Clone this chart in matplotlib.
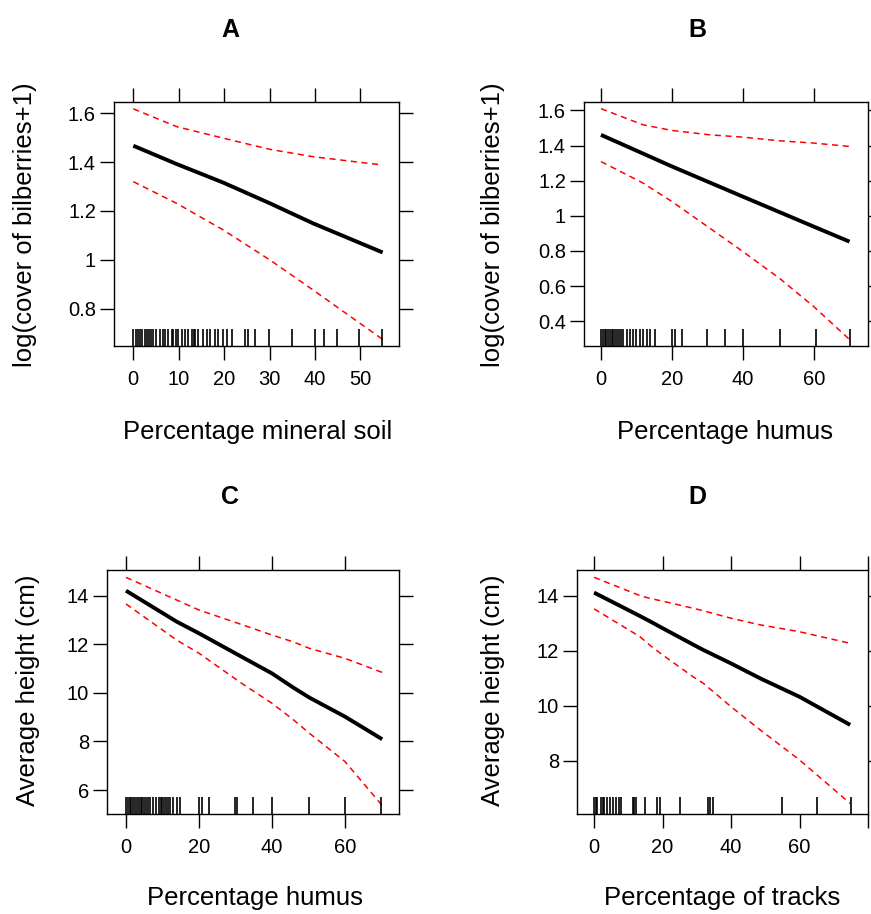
import numpy as np
import matplotlib
matplotlib.use("Agg")
import matplotlib.pyplot as plt

plt.rcParams['font.family'] = ['Liberation Sans', 'DejaVu Sans']

# ---- panel A: log cover of bilberries vs mineral soil
a_x = [0, 9.55, 19.8, 30.1, 39.6, 54.9]
a_fit = [1.467, 1.392, 1.316, 1.231, 1.149, 1.030]
a_up = [1.618, 1.545, 1.498, 1.452, 1.422, 1.388]
a_lo = [1.320, 1.231, 1.122, 0.999, 0.876, 0.674]
a_rug = [0, 0.5, 1, 1.5, 2, 2.5, 3, 3.5, 4, 4.4, 5.1, 5.9, 6.6, 7, 7.7, 8.5, 8.8,
         9.5, 9.9, 10.7, 11.4, 12.1, 12.9, 13.3, 13.6, 14.3, 15.4, 16.2, 16.9,
         18, 18.7, 19.8, 20.6, 21.7, 24.6, 25.3, 26.8, 29.8, 35, 39.9, 41.9,
         44.8, 49.6, 54.8]

# ---- panel B: log cover of bilberries vs humus
b_x = [0, 11.9, 20, 30.7, 40, 50.3, 60, 70]
b_fit = [1.461, 1.354, 1.281, 1.189, 1.109, 1.021, 0.938, 0.853]
b_up = [1.610, 1.518, 1.486, 1.461, 1.448, 1.427, 1.414, 1.395]
b_lo = [1.309, 1.186, 1.081, 0.929, 0.796, 0.644, 0.482, 0.296]
b_rug = [0, 0.5, 1, 1.5, 2, 2.5, 3, 3.5, 4, 4.5, 5, 5.5, 6.2, 7.2, 8.2, 9.1, 10,
         11, 11.9, 12.9, 13.8, 15.2, 19.9, 20.8, 22.9, 30, 35, 40, 50.3, 60.5, 70]

# ---- panel C: average height vs humus
c_x = [0, 13.9, 20, 32.1, 40, 45.8, 50.3, 60, 70.2]
c_fit = [14.206, 12.93, 12.45, 11.45, 10.80, 10.22, 9.80, 9.02, 8.09]
c_up = [14.755, 13.82, 13.41, 12.79, 12.38, 12.10, 11.83, 11.42, 10.84]
c_lo = [13.66, 12.17, 11.63, 10.35, 9.57, 8.90, 8.33, 7.17, 5.36]
c_rug = [0, 0.5, 1, 1.5, 2, 2.5, 3, 3.5, 4, 4.5, 5, 5.5, 6, 6.5, 7.5, 8.3, 9.1,
         9.7, 10, 10.5, 11, 11.5, 12, 12.9, 13.9, 14.8, 20, 20.7, 22.8, 29.8,
         30.3, 34.8, 40, 50.2, 60, 70]

# ---- panel D: average height vs tracks
d_x = [0, 13.4, 16.3, 20, 29.0, 31.9, 40, 48.5, 60, 74.8]
d_fit = [14.11, 13.26, 13.07, 12.82, 12.22, 12.03, 11.54, 11.0, 10.33, 9.31]
d_up = [14.665, 14.0, 13.90, 13.80, 13.54, 13.45, 13.18, 12.94, 12.69, 12.27]
d_lo = [13.52, 12.51, 12.20, 11.85, 11.05, 10.82, 9.97, 9.13, 8.04, 6.46]
d_rug = [0, 0.5, 1, 2, 2.5, 3, 3.8, 4.6, 5.4, 6.4, 7.3, 8, 11.3, 11.7, 12.2,
         15, 18.3, 19.2, 25.2, 33.2, 33.9, 34.6, 55, 65, 75]

W, H = 871, 914
fig = plt.figure(figsize=(W / 100, H / 100), dpi=100)


def px_axes(x0, y0, x1, y1):
    return fig.add_axes([x0 / W, 1 - y1 / H, (x1 - x0) / W, (y1 - y0) / H])


def draw_panel(ax, x, fit, up, lo, rug, xlim, ylim, xticks, xlabels, yticks, ylabels):
    ax.plot(x, fit, color='black', lw=2.8, solid_capstyle='butt', solid_joinstyle='round')
    ax.plot(x, up, color='red', lw=1.1, linestyle=(0, (4, 3)))
    ax.plot(x, lo, color='red', lw=1.1, linestyle=(0, (4, 3)))
    ax.vlines(rug, 0, 17 / 244, transform=ax.get_xaxis_transform(),
              color='black', lw=1.2)
    ax.set_xlim(xlim)
    ax.set_ylim(ylim)
    ax.set_xticks(xticks)
    ax.set_xticklabels(xlabels)
    ax.set_yticks(yticks)
    ax.set_yticklabels(ylabels)
    ax.tick_params(top=True, right=True, direction='out', length=10, width=1.0,
                   labelsize=14.5, colors='black')
    ax.tick_params(axis='x', pad=7)
    ax.tick_params(axis='y', pad=3)
    for s in ax.spines.values():
        s.set_linewidth(1.0)


axA = px_axes(114, 102, 399, 346)
draw_panel(axA, a_x, a_fit, a_up, a_lo, a_rug, (-4.25, 58.5), (0.647, 1.646),
           [0, 10, 20, 30, 40, 50], ['0', '10', '20', '30', '40', '50'],
           [0.8, 1.0, 1.2, 1.4, 1.6], ['0.8', '1', '1.2', '1.4', '1.6'])

axB = px_axes(584, 102, 868, 346)
draw_panel(axB, b_x, b_fit, b_up, b_lo, b_rug, (-4.78, 75.2), (0.259, 1.648),
           [0, 20, 40, 60], ['0', '20', '40', '60'],
           [0.4, 0.6, 0.8, 1.0, 1.2, 1.4, 1.6],
           ['0.4', '0.6', '0.8', '1', '1.2', '1.4', '1.6'])

axC = px_axes(107, 570, 399, 814)
draw_panel(axC, c_x, c_fit, c_up, c_lo, c_rug, (-5.2, 74.8), (5.012, 15.057),
           [0, 20, 40, 60], ['0', '20', '40', '60'],
           [6, 8, 10, 12, 14], ['6', '8', '10', '12', '14'])

axD = px_axes(577, 570, 868, 814)
draw_panel(axD, d_x, d_fit, d_up, d_lo, d_rug, (-4.98, 80.0), (6.077, 14.93),
           [0, 20, 40, 60, 80], ['0', '20', '40', '60', ''],
           [8, 10, 12, 14], ['8', '10', '12', '14'])

# titles and axis labels, placed in pixel coordinates
def ftext(x, y, s, **kw):
    fig.text(x / W, 1 - y / H, s, ha='center', va='center', **kw)


ftext(230, 30, 'A', fontsize=18, fontweight='bold')
ftext(697, 30, 'B', fontsize=18, fontweight='bold')
ftext(230, 497, 'C', fontsize=18, fontweight='bold')
ftext(697, 497, 'D', fontsize=18, fontweight='bold')

ftext(258, 432, 'Percentage mineral soil', fontsize=18.5)
ftext(725, 432, 'Percentage humus', fontsize=18.5)
ftext(255, 898, 'Percentage humus', fontsize=18.5)
ftext(722, 898, 'Percentage of tracks', fontsize=18.5)

ftext(25, 225, 'log(cover of bilberries+1)', fontsize=18.5, rotation=90)
ftext(493, 225, 'log(cover of bilberries+1)', fontsize=18.5, rotation=90)
ftext(28, 690, 'Average height (cm)', fontsize=18.5, rotation=90)
ftext(493, 690, 'Average height (cm)', fontsize=18.5, rotation=90)

fig.savefig('out.png', dpi=100, facecolor='white')
